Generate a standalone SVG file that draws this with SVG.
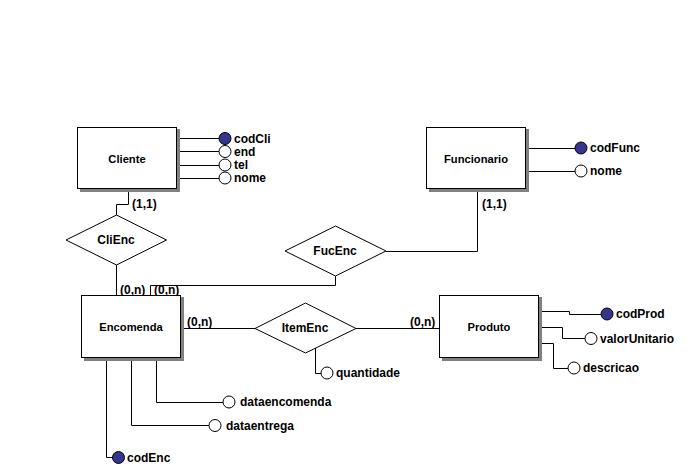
<svg xmlns="http://www.w3.org/2000/svg" width="687" height="472" viewBox="0 0 687 472">
<style>
text{font-family:"Liberation Sans",Arial,sans-serif;font-weight:bold;font-size:12px;fill:#000}
.lbl{text-anchor:middle;dominant-baseline:central}
.ent{font-size:11.2px}
.att{dominant-baseline:central}
.box{fill:#fff;stroke:#000;stroke-width:1}
.sh{fill:#808080}
.rel{fill:#fff;stroke:#000;stroke-width:1}
.ln{fill:none;stroke:#000;stroke-width:1}
.pk{fill:#35358f;stroke:#000;stroke-width:1}
.ak{fill:#fff;stroke:#000;stroke-width:1}
</style>
<rect width="687" height="472" fill="#fff"/>
<g id="connectors">
  <!-- Cliente - CliEnc - Encomenda -->
  <polyline class="ln" points="128.5,189 128.5,204.5 116.5,204.5 116.5,215"/>
  <polyline class="ln" points="116.5,265 116.5,296"/>
  <!-- Funcionario - FucEnc - Encomenda -->
  <polyline class="ln" points="477.5,189 477.5,251.5 386,251.5"/>
  <polyline class="ln" points="335.5,276 335.5,285.5 150.5,285.5 150.5,296"/>
  <!-- Encomenda - ItemEnc - Produto -->
  <line class="ln" x1="181" y1="328.5" x2="255" y2="328.5"/>
  <line class="ln" x1="356" y1="328.5" x2="440" y2="328.5"/>
  <text x="132" y="208">(1,1)</text>
  <text x="120" y="294">(0,n)</text>
  <text x="154" y="294">(0,n)</text>
  <text x="482" y="208">(1,1)</text>
  <text x="187" y="326">(0,n)</text>
  <text x="410" y="326">(0,n)</text>
  <!-- attribute lines -->
  <line class="ln" x1="179" y1="138.5" x2="219" y2="138.5"/>
  <line class="ln" x1="179" y1="151.5" x2="219" y2="151.5"/>
  <line class="ln" x1="179" y1="165.5" x2="219" y2="165.5"/>
  <line class="ln" x1="179" y1="178.5" x2="219" y2="178.5"/>
  <line class="ln" x1="528" y1="148.5" x2="575" y2="148.5"/>
  <line class="ln" x1="528" y1="171.5" x2="575" y2="171.5"/>
  <polyline class="ln" points="542,311.5 569.5,311.5 569.5,314.5 601,314.5"/>
  <polyline class="ln" points="542,327.5 562.5,327.5 562.5,338.5 585,338.5"/>
  <polyline class="ln" points="542,343.5 553.5,343.5 553.5,368.5 568,368.5"/>
  <polyline class="ln" points="315.5,347 315.5,373.5 321,373.5"/>
  <polyline class="ln" points="156.5,358 156.5,402.5 223,402.5"/>
  <polyline class="ln" points="131.5,358 131.5,425.5 209,425.5"/>
  <polyline class="ln" points="106.5,358 106.5,457.5 113,457.5"/>
</g>
<g id="Cliente">
  <rect class="sh" x="80" y="129" width="100" height="63"/>
  <rect class="box" x="77.5" y="127.5" width="99" height="61"/>
  <text class="lbl ent" x="127" y="159">Cliente</text>
</g>
<g id="Funcionario">
  <rect class="sh" x="429" y="129" width="100" height="63"/>
  <rect class="box" x="426.5" y="127.5" width="99" height="61"/>
  <text class="lbl ent" x="476" y="159">Funcionario</text>
</g>
<g id="Encomenda">
  <rect class="sh" x="84" y="297" width="100" height="64"/>
  <rect class="box" x="81.5" y="295.5" width="99" height="62"/>
  <text class="lbl ent" x="131" y="327">Encomenda</text>
</g>
<g id="Produto">
  <rect class="sh" x="442" y="297" width="100" height="64"/>
  <rect class="box" x="439.5" y="295.5" width="99" height="62"/>
  <text class="lbl ent" x="489" y="327">Produto</text>
</g>
<g id="CliEnc">
  <polygon class="rel" points="116.5,215 166.5,240 116.5,265 66,240"/>
  <text class="lbl" x="116" y="240">CliEnc</text>
</g>
<g id="FucEnc">
  <polygon class="rel" points="335.5,226 386,251 335.5,276 285,251"/>
  <text class="lbl" x="335" y="251">FucEnc</text>
</g>
<g id="ItemEnc">
  <polygon class="rel" points="305.5,303 356,328.5 305.5,353 255,328.5"/>
  <text class="lbl" x="305" y="328">ItemEnc</text>
</g>
<g id="attr-codCli"><circle class="pk" cx="225" cy="138.5" r="6"/><text class="att" x="234" y="138.5">codCli</text></g>
<g id="attr-end"><circle class="ak" cx="225" cy="151.5" r="6"/><text class="att" x="234" y="151.5">end</text></g>
<g id="attr-tel"><circle class="ak" cx="225" cy="165" r="6"/><text class="att" x="234" y="165">tel</text></g>
<g id="attr-nome-cli"><circle class="ak" cx="225" cy="178" r="6"/><text class="att" x="234" y="178">nome</text></g>
<g id="attr-codFunc"><circle class="pk" cx="581" cy="148" r="6"/><text class="att" x="590" y="148">codFunc</text></g>
<g id="attr-nome-func"><circle class="ak" cx="581" cy="171" r="6"/><text class="att" x="590" y="171">nome</text></g>
<g id="attr-codProd"><circle class="pk" cx="607" cy="314" r="6"/><text class="att" x="616" y="314">codProd</text></g>
<g id="attr-valorUnitario"><circle class="ak" cx="591" cy="338.5" r="6"/><text class="att" x="600" y="338.5">valorUnitario</text></g>
<g id="attr-descricao"><circle class="ak" cx="574" cy="368" r="6"/><text class="att" x="583" y="368">descricao</text></g>
<g id="attr-quantidade"><circle class="ak" cx="327" cy="373" r="6"/><text class="att" x="336" y="373">quantidade</text></g>
<g id="attr-dataencomenda"><circle class="ak" cx="229" cy="402" r="6"/><text class="att" x="240" y="402">dataencomenda</text></g>
<g id="attr-dataentrega"><circle class="ak" cx="215" cy="425.5" r="6"/><text class="att" x="226" y="425.5">dataentrega</text></g>
<g id="attr-codEnc"><circle class="pk" cx="118.5" cy="457.5" r="6"/><text class="att" x="127" y="457.5">codEnc</text></g>
</svg>
